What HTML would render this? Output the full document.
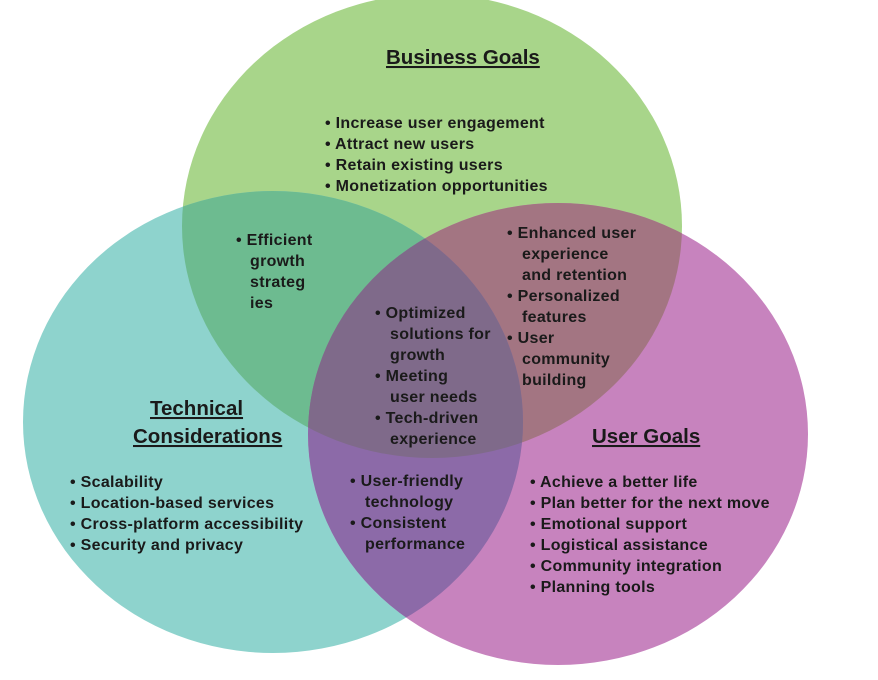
<!DOCTYPE html>
<html><head><meta charset="utf-8"><style>
html,body{margin:0;padding:0;background:#fff;}
svg{display:block}
text{font-family:"Liberation Sans",sans-serif;font-size:16px;font-weight:bold;fill:#1a1a1a;letter-spacing:0.3px;}
.h{font-size:20.5px;text-decoration:underline;letter-spacing:0;}
</style></head><body>
<svg width="878" height="680" viewBox="0 0 878 680" xmlns="http://www.w3.org/2000/svg">
<defs>
<clipPath id="g"><ellipse cx="432" cy="226" rx="250" ry="232"/></clipPath>
<clipPath id="t"><ellipse cx="273" cy="422" rx="250" ry="231"/></clipPath>
</defs>
<ellipse cx="432" cy="226" rx="250" ry="232" fill="#a8d58a"/>
<ellipse cx="273" cy="422" rx="250" ry="231" fill="#8ed3cd"/>
<ellipse cx="558" cy="434" rx="250" ry="231" fill="#c783be"/>
<g clip-path="url(#g)"><ellipse cx="273" cy="422" rx="250" ry="231" fill="#6dbb90"/><ellipse cx="558" cy="434" rx="250" ry="231" fill="#a37582"/></g>
<g clip-path="url(#t)"><ellipse cx="558" cy="434" rx="250" ry="231" fill="#8c6aa8"/></g>
<g clip-path="url(#g)"><g clip-path="url(#t)"><ellipse cx="558" cy="434" rx="250" ry="231" fill="#7f6a8a"/></g></g>

<text class="h" x="386" y="64">Business Goals</text>
<text x="325" y="128">• Increase user engagement</text>
<text x="325" y="149">• Attract new users</text>
<text x="325" y="170">• Retain existing users</text>
<text x="325" y="191">• Monetization opportunities</text>

<text x="236" y="245">• Efficient</text>
<text x="250" y="266">growth</text>
<text x="250" y="287">strateg</text>
<text x="250" y="308">ies</text>

<text x="507" y="238">• Enhanced user</text>
<text x="522" y="259">experience</text>
<text x="522" y="280">and retention</text>
<text x="507" y="301">• Personalized</text>
<text x="522" y="322">features</text>
<text x="507" y="343">• User</text>
<text x="522" y="364">community</text>
<text x="522" y="385">building</text>

<text x="375" y="318">• Optimized</text>
<text x="390" y="339">solutions for</text>
<text x="390" y="360">growth</text>
<text x="375" y="381">• Meeting</text>
<text x="390" y="402">user needs</text>
<text x="375" y="423">• Tech-driven</text>
<text x="390" y="444">experience</text>

<text class="h" x="150" y="415">Technical</text>
<text class="h" x="133" y="443">Considerations</text>
<text x="70" y="487">• Scalability</text>
<text x="70" y="508">• Location-based services</text>
<text x="70" y="529">• Cross-platform accessibility</text>
<text x="70" y="550">• Security and privacy</text>

<text x="350" y="486">• User-friendly</text>
<text x="365" y="507">technology</text>
<text x="350" y="528">• Consistent</text>
<text x="365" y="549">performance</text>

<text class="h" x="592" y="443">User Goals</text>
<text x="530" y="487">• Achieve a better life</text>
<text x="530" y="508">• Plan better for the next move</text>
<text x="530" y="529">• Emotional support</text>
<text x="530" y="550">• Logistical assistance</text>
<text x="530" y="571">• Community integration</text>
<text x="530" y="592">• Planning tools</text>
</svg>
</body></html>
